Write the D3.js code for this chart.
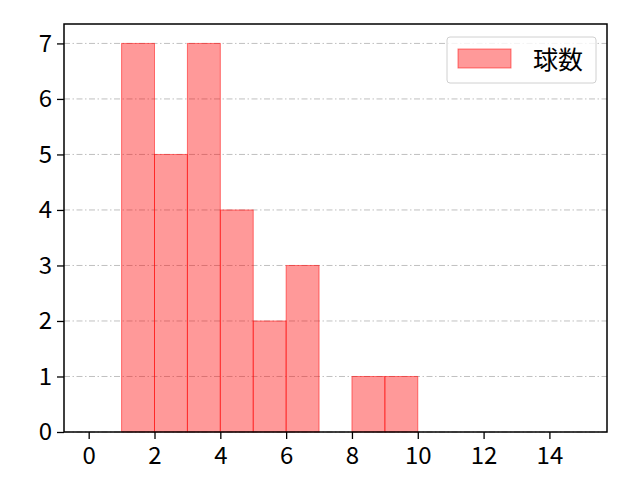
<!DOCTYPE html>
<html>
<head>
<meta charset="utf-8">
<script src="https://cdn.jsdelivr.net/npm/d3@7"></script>
<style>
  body { margin: 0; background: #fff; }
  text { font-family: "Noto Sans CJK JP", "Noto Sans", sans-serif; }
</style>
</head>
<body>
<div id="chart"></div>
<script>
const binStarts = [1, 2, 3, 4, 5, 6, 7, 8, 9];
const counts = [7, 5, 7, 4, 2, 3, 0, 1, 1];
const xTicks = [0, 2, 4, 6, 8, 10, 12, 14];
const yTicks = [0, 1, 2, 3, 4, 5, 6, 7];
const seriesName = '球数';

const width = 640;
const height = 480;
const margin = { top: 24, right: 33, bottom: 48, left: 64 };

const svg = d3.select('#chart')
  .append('svg')
  .attr('width', width)
  .attr('height', height);

const x = d3.scaleLinear()
  .domain([-0.75, 15.75])
  .range([margin.left, width - margin.right]);

const y = d3.scaleLinear()
  .domain([0, 7.35])
  .range([height - margin.bottom, margin.top]);

// grid
svg.append('g')
  .selectAll('line')
  .data(yTicks)
  .enter()
  .append('line')
  .attr('x1', margin.left)
  .attr('x2', width - margin.right)
  .attr('y1', d => y(d))
  .attr('y2', d => y(d))
  .attr('stroke', '#b0b0b0')
  .attr('stroke-width', 0.8)
  .attr('stroke-dasharray', '6,2.5,1.5,2.5');

// bars
svg.append('g')
  .selectAll('rect')
  .data(binStarts.map((s, i) => ({ s, c: counts[i] })).filter(d => d.c > 0))
  .enter()
  .append('rect')
  .attr('x', d => x(d.s))
  .attr('y', d => y(d.c))
  .attr('width', d => x(d.s + 1) - x(d.s))
  .attr('height', d => y(0) - y(d.c))
  .attr('fill', 'rgba(255,0,0,0.4)')
  .attr('stroke', 'rgba(255,0,0,0.5)')
  .attr('stroke-width', 1);

// axes
const xAxis = svg.append('g')
  .attr('transform', `translate(0, ${y(0)})`)
  .call(d3.axisBottom(x).tickValues(xTicks).tickSize(7).tickPadding(8));
const yAxis = svg.append('g')
  .attr('transform', `translate(${margin.left}, 0)`)
  .call(d3.axisLeft(y).tickValues(yTicks).tickSize(7).tickPadding(5));
[xAxis, yAxis].forEach((a) => {
  a.attr('font-size', null).attr('font-family', null);
  a.select('.domain').remove();
  a.selectAll('.tick line').attr('stroke', '#000').attr('stroke-width', 1.3);
  a.selectAll('.tick text')
    .attr('fill', '#000')
    .attr('font-size', 24)
    .attr('font-family', '"Noto Sans CJK JP", sans-serif');
});

// frame
svg.append('rect')
  .attr('x', margin.left)
  .attr('y', margin.top)
  .attr('width', width - margin.left - margin.right)
  .attr('height', height - margin.top - margin.bottom)
  .attr('fill', 'none')
  .attr('stroke', '#000')
  .attr('stroke-width', 1.5);

// legend
const legend = svg.append('g').attr('transform', 'translate(447, 37)');
legend.append('rect')
  .attr('width', 149)
  .attr('height', 46)
  .attr('rx', 3)
  .attr('fill', 'rgba(255,255,255,0.8)')
  .attr('stroke', '#d0d0d0')
  .attr('stroke-width', 1);
legend.append('rect')
  .attr('x', 11)
  .attr('y', 12)
  .attr('width', 53)
  .attr('height', 19)
  .attr('fill', 'rgba(255,0,0,0.4)')
  .attr('stroke', 'rgba(255,0,0,0.5)');
legend.append('text')
  .attr('x', 86)
  .attr('y', 32)
  .attr('font-size', 25)
  .attr('fill', '#000')
  .text(seriesName);
</script>
</body>
</html>
